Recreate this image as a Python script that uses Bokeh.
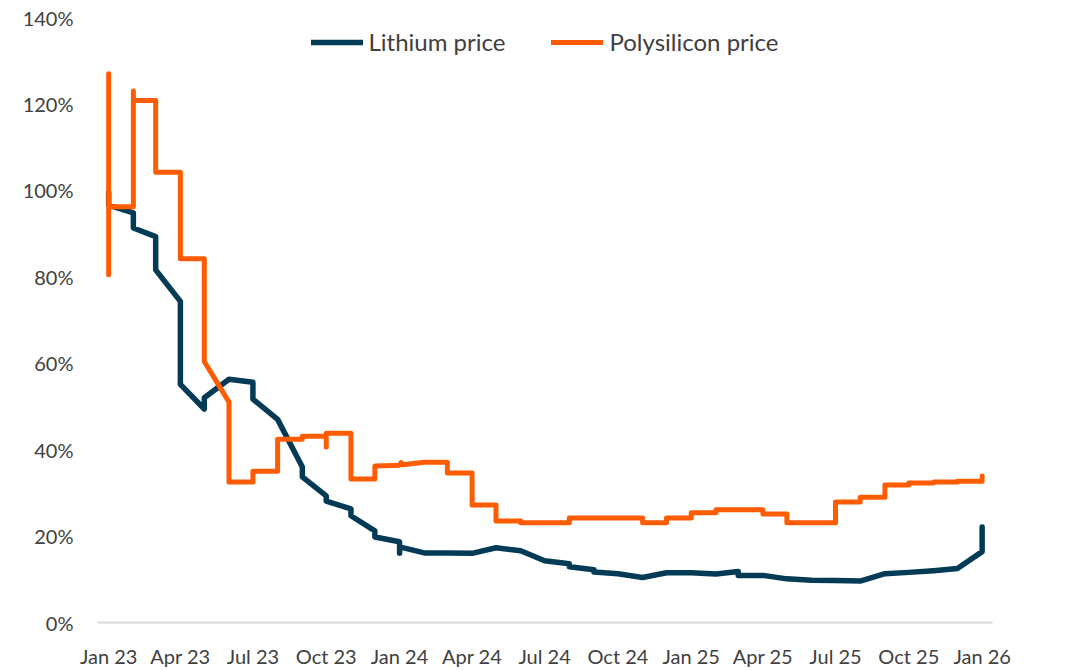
from datetime import datetime
import pandas as pd
from bokeh.plotting import figure
from bokeh.models import (FixedTicker, PrintfTickFormatter, DatetimeTickFormatter,
                          Legend, LegendItem, Label, Range1d)
from bokeh.embed import file_html
from bokeh.resources import INLINE

# ---------------- data (percent of reference level) ----------------
lithium_dates = [
    "2023-01-01", "2023-01-01", "2023-02-01", "2023-02-01", "2023-03-01", "2023-03-01",
    "2023-04-01", "2023-04-01", "2023-05-01", "2023-05-01", "2023-06-01", "2023-07-01",
    "2023-07-01", "2023-08-01", "2023-09-01", "2023-09-01", "2023-10-01", "2023-10-01",
    "2023-11-01", "2023-11-01", "2023-12-01", "2023-12-01", "2024-01-01", "2024-01-01",
    "2024-01-01", "2024-02-01", "2024-03-01", "2024-04-01", "2024-05-01", "2024-06-01",
    "2024-07-01", "2024-08-01", "2024-08-01", "2024-09-01", "2024-09-01", "2024-10-01",
    "2024-11-01", "2024-12-01", "2025-01-01", "2025-02-01", "2025-03-01", "2025-03-01",
    "2025-04-01", "2025-05-01", "2025-06-01", "2025-07-01", "2025-08-01", "2025-09-01",
    "2025-10-01", "2025-11-01", "2025-12-01", "2026-01-01", "2026-01-01",
]
lithium_values = [
    99.5, 96.6, 94.8, 91.3, 89.3, 81.6,
    74.3, 55.1, 49.4, 52.0, 56.3, 55.6,
    51.7, 47.0, 36.0, 33.7, 29.3, 28.1,
    26.3, 24.7, 21.2, 19.8, 18.7, 16.0,
    17.5, 16.1, 16.1, 16.0, 17.3, 16.6,
    14.3, 13.6, 12.9, 12.2, 11.7, 11.3,
    10.4, 11.5, 11.5, 11.2, 11.8, 10.9,
    10.9, 10.1, 9.8, 9.7, 9.6, 11.3,
    11.6, 12.0, 12.5, 16.4, 22.1,
]

poly_dates = [
    "2023-01-01", "2023-01-01", "2023-01-01", "2023-02-01", "2023-02-01", "2023-02-01",
    "2023-03-01", "2023-03-01", "2023-04-01", "2023-04-01", "2023-05-01", "2023-05-01",
    "2023-06-01", "2023-06-01", "2023-07-01", "2023-07-01", "2023-08-01", "2023-08-01",
    "2023-09-01", "2023-09-01", "2023-10-01", "2023-10-01", "2023-10-01", "2023-11-01",
    "2023-11-01", "2023-12-01", "2023-12-01", "2024-01-01", "2024-01-03", "2024-01-05",
    "2024-02-01", "2024-03-01", "2024-03-01", "2024-04-01", "2024-04-01", "2024-05-01",
    "2024-05-01", "2024-06-01", "2024-06-01", "2024-08-01", "2024-08-01", "2024-11-01",
    "2024-11-01", "2024-12-01", "2024-12-01", "2025-01-01", "2025-01-01", "2025-02-01",
    "2025-02-01", "2025-04-01", "2025-04-01", "2025-05-01", "2025-05-01", "2025-07-01",
    "2025-07-01", "2025-08-01", "2025-08-01", "2025-09-01", "2025-09-01", "2025-10-01",
    "2025-10-01", "2025-11-01", "2025-11-01", "2025-12-01", "2025-12-01", "2026-01-01",
    "2026-01-01",
]
poly_values = [
    127.0, 80.5, 96.2, 96.2, 123.0, 120.8,
    120.8, 104.2, 104.2, 84.2, 84.2, 60.4,
    51.0, 32.5, 32.5, 35.0, 35.0, 42.4,
    42.4, 43.1, 43.1, 40.6, 43.8, 43.8,
    33.2, 33.2, 36.2, 36.4, 37.0, 36.5,
    37.1, 37.1, 34.6, 34.6, 27.2, 27.2,
    23.5, 23.5, 23.1, 23.1, 24.2, 24.2,
    23.1, 23.1, 24.2, 24.2, 25.4, 25.4,
    26.1, 26.1, 25.1, 25.1, 23.1, 23.1,
    27.9, 27.9, 29.0, 29.0, 31.8, 31.8,
    32.3, 32.3, 32.5, 32.5, 32.7, 32.7,
    33.9,
]

tick_dates = ["2023-01-01", "2023-04-01", "2023-07-01", "2023-10-01", "2024-01-01",
              "2024-04-01", "2024-07-01", "2024-10-01", "2025-01-01", "2025-04-01",
              "2025-07-01", "2025-10-01", "2026-01-01"]
y_ticks = [0, 20, 40, 60, 80, 100, 120, 140]

series_names = ["Lithium price", "Polysilicon price"]
series_colors = ["#033B57", "#FF5B00"]

# ---------------- figure ----------------
FONT = "Lato"
TEXT = "#404040"

ld = pd.to_datetime(lithium_dates)
pdd = pd.to_datetime(poly_dates)

p = figure(width=1055, height=670, output_backend="svg", toolbar_location=None,
           x_axis_type="datetime",
           x_range=Range1d(datetime(2022, 12, 18), datetime(2026, 1, 14)),
           y_range=Range1d(0, 140),
           min_border_left=97, min_border_right=63, min_border_top=17, min_border_bottom=46)
p.outline_line_color = None
p.xgrid.visible = False
p.ygrid.visible = False

r_li = p.line(ld, lithium_values, line_color=series_colors[0], line_width=5.5,
              line_cap="round", line_join="round")
r_po = p.line(pdd, poly_values, line_color=series_colors[1], line_width=5,
              line_cap="round", line_join="round")

# axes
tick_ms = [pd.Timestamp(d).value / 1e6 for d in tick_dates]
p.xaxis.ticker = FixedTicker(ticks=tick_ms)
fmt = "%b %y"
p.xaxis.formatter = DatetimeTickFormatter(
    microseconds=fmt, milliseconds=fmt, seconds=fmt, minsec=fmt, minutes=fmt,
    hourmin=fmt, hours=fmt, days=fmt, months=fmt, years=fmt)
p.xaxis.axis_line_color = "#D9D9D9"
p.xaxis.axis_line_width = 2
p.xaxis.major_tick_line_color = None
p.xaxis.minor_tick_line_color = None
p.xaxis.major_label_standoff = 15
p.xaxis.major_label_text_font = FONT
p.xaxis.major_label_text_font_size = "20px"
p.xaxis.major_label_text_color = TEXT

p.yaxis.ticker = FixedTicker(ticks=y_ticks)
p.yaxis.formatter = PrintfTickFormatter(format="%d%%")
p.yaxis.axis_line_color = None
p.yaxis.major_tick_line_color = None
p.yaxis.minor_tick_line_color = None
p.yaxis.major_label_standoff = 18
p.yaxis.major_label_text_font = FONT
p.yaxis.major_label_text_font_size = "20px"
p.yaxis.major_label_text_color = TEXT

# legend
legend = Legend(items=[LegendItem(label=series_names[0], renderers=[r_li]),
                       LegendItem(label=series_names[1], renderers=[r_po])],
                location="top_center", orientation="horizontal",
                label_text_font=FONT, label_text_font_size="24px", label_text_color=TEXT,
                glyph_width=52, glyph_height=20, label_standoff=6, spacing=46,
                padding=0, margin=10, border_line_color=None, background_fill_alpha=0)
p.add_layout(legend)

# end labels
end_x = pd.Timestamp(lithium_dates[-1]).value / 1e6
for val in (poly_values[-1], lithium_values[-1]):
    p.add_layout(Label(x=end_x, y=val, x_offset=22, text=f"{round(val)}%",
                       text_font=FONT, text_font_size="22px", text_color=TEXT,
                       text_baseline="middle", text_align="left"))

open("out.html", "w").write(file_html(p, INLINE))
